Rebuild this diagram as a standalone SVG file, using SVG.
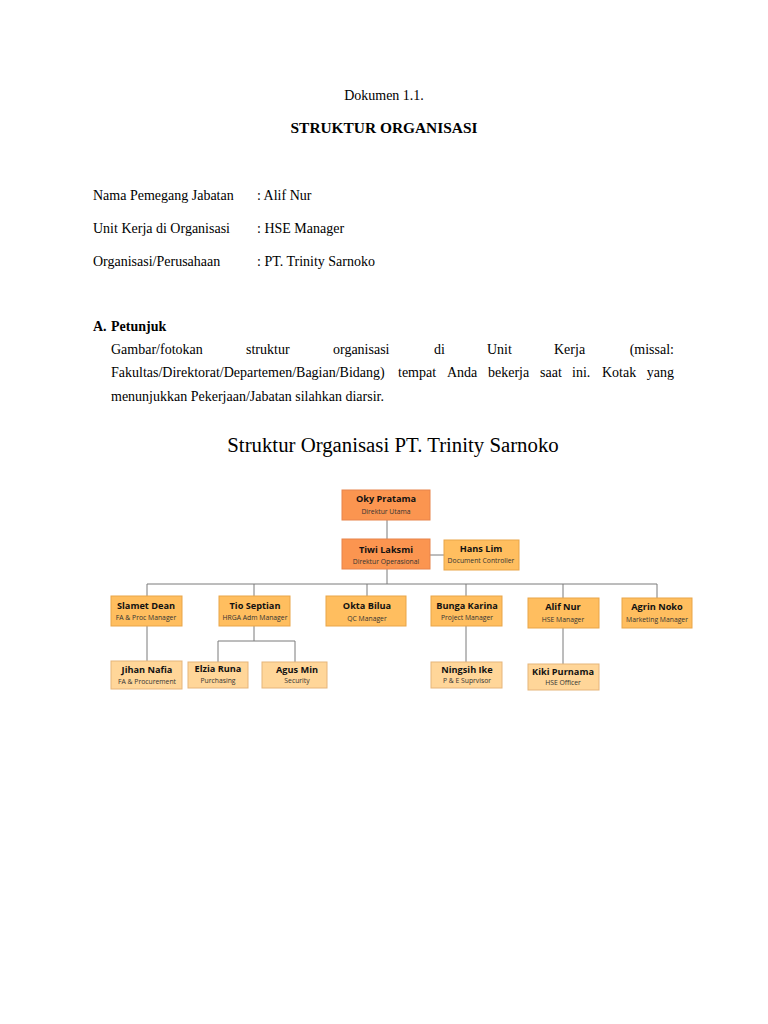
<svg xmlns="http://www.w3.org/2000/svg" width="768" height="1024" viewBox="0 0 768 1024">
<style>
.t{font-family:"Liberation Serif","Times New Roman",serif;font-size:14px;fill:#000}
.b{font-weight:bold}
.n{font-family:"Open Sans","Noto Sans",sans-serif;font-size:9.2px;font-weight:bold;fill:#111;text-anchor:middle}
.s{font-family:"Open Sans","Noto Sans",sans-serif;font-size:6.8px;fill:#333;text-anchor:middle}
.l1{fill:#FB9550;stroke:#E8834A;stroke-width:1}
.l2{fill:#FFBE5F;stroke:#E9A548;stroke-width:1}
.l3{fill:#FFD699;stroke:#E6B57A;stroke-width:1}
.c{stroke:#7a7a7a;stroke-width:1;fill:none}
</style>
<rect width="768" height="1024" fill="#fff"/>
<text class="t" x="384" y="100" text-anchor="middle">Dokumen 1.1.</text>
<text class="t b" x="384" y="133" text-anchor="middle" style="font-size:15.4px">STRUKTUR ORGANISASI</text>
<text class="t" x="93" y="200">Nama Pemegang Jabatan</text>
<text class="t" x="257" y="200">: Alif Nur</text>
<text class="t" x="93" y="233">Unit Kerja di Organisasi</text>
<text class="t" x="257" y="233">: HSE Manager</text>
<text class="t" x="93" y="266">Organisasi/Perusahaan</text>
<text class="t" x="257" y="266">: PT. Trinity Sarnoko</text>
<text class="t b" x="93" y="331">A.</text>
<text class="t b" x="111" y="331">Petunjuk</text>
<g class="t">
<text class="t" x="111" y="354">Gambar/fotokan</text>
<text class="t" x="246" y="354">struktur</text>
<text class="t" x="333" y="354">organisasi</text>
<text class="t" x="434" y="354">di</text>
<text class="t" x="487" y="354">Unit</text>
<text class="t" x="554" y="354">Kerja</text>
<text class="t" x="674" y="354" text-anchor="end">(missal:</text>
<text class="t" x="111" y="377">Fakultas/Direktorat/Departemen/Bagian/Bidang)</text>
<text class="t" x="398" y="377">tempat</text>
<text class="t" x="447" y="377">Anda</text>
<text class="t" x="488" y="377">bekerja</text>
<text class="t" x="540" y="377">saat</text>
<text class="t" x="572" y="377">ini.</text>
<text class="t" x="602" y="377">Kotak</text>
<text class="t" x="674" y="377" text-anchor="end">yang</text>
<text class="t" x="111" y="401">menunjukkan Pekerjaan/Jabatan silahkan diarsir.</text>
</g>
<text x="393" y="452" text-anchor="middle" style="font-family:'Liberation Serif','Times New Roman',serif;font-size:20.8px;fill:#000">Struktur Organisasi PT. Trinity Sarnoko</text>

<g id="connectors">
<line class="c" x1="387" y1="520" x2="387" y2="539"/>
<line class="c" x1="430" y1="555" x2="444" y2="555"/>
<line class="c" x1="387" y1="569" x2="387" y2="584"/>
<line class="c" x1="147" y1="584" x2="657" y2="584"/>
<line class="c" x1="147" y1="584" x2="147" y2="596"/>
<line class="c" x1="254" y1="584" x2="254" y2="596"/>
<line class="c" x1="367" y1="584" x2="367" y2="596"/>
<line class="c" x1="466" y1="584" x2="466" y2="596"/>
<line class="c" x1="563" y1="584" x2="563" y2="598"/>
<line class="c" x1="657" y1="584" x2="657" y2="598"/>
<line class="c" x1="147" y1="626" x2="147" y2="661"/>
<line class="c" x1="254" y1="626" x2="254" y2="641"/>
<line class="c" x1="218" y1="641" x2="295" y2="641"/>
<line class="c" x1="218" y1="641" x2="218" y2="662"/>
<line class="c" x1="295" y1="641" x2="295" y2="662"/>
<line class="c" x1="466" y1="626" x2="466" y2="662"/>
<line class="c" x1="563" y1="628" x2="563" y2="664"/>
</g>

<g id="oky"><rect class="l1" x="342" y="490" width="88" height="30"/><text class="n" x="386" y="502">Oky Pratama</text><text class="s" x="386" y="514">Direktur Utama</text></g>
<g id="tiwi"><rect class="l1" x="342" y="539" width="88" height="30"/><text class="n" x="386" y="553">Tiwi Laksmi</text><text class="s" x="386" y="564">Direktur Operasional</text></g>
<g id="hans"><rect class="l2" x="444" y="540" width="75" height="30"/><text class="n" x="481" y="552">Hans Lim</text><text class="s" x="481" y="563">Document Controller</text></g>

<g id="slamet"><rect class="l2" x="111" y="596" width="71" height="30"/><text class="n" x="146" y="609">Slamet Dean</text><text class="s" x="146" y="620">FA &amp; Proc Manager</text></g>
<g id="tio"><rect class="l2" x="219" y="596" width="71" height="30"/><text class="n" x="255" y="609">Tio Septian</text><text class="s" x="255" y="620">HRGA Adm Manager</text></g>
<g id="okta"><rect class="l2" x="326" y="596" width="80" height="30"/><text class="n" x="367" y="609">Okta Bilua</text><text class="s" x="367" y="621">QC Manager</text></g>
<g id="bunga"><rect class="l2" x="431" y="596" width="71" height="30"/><text class="n" x="467" y="609">Bunga Karina</text><text class="s" x="467" y="620">Project Manager</text></g>
<g id="alif"><rect class="l2" x="528" y="598" width="71" height="30"/><text class="n" x="563" y="610">Alif Nur</text><text class="s" x="563" y="622">HSE Manager</text></g>
<g id="agrin"><rect class="l2" x="622" y="598" width="70" height="30"/><text class="n" x="657" y="610">Agrin Noko</text><text class="s" x="657" y="622">Marketing Manager</text></g>

<g id="jihan"><rect class="l3" x="111" y="661" width="71" height="28"/><text class="n" x="147" y="673">Jihan Nafia</text><text class="s" x="147" y="684">FA &amp; Procurement</text></g>
<g id="elzia"><rect class="l3" x="188" y="662" width="60" height="26"/><text class="n" x="218" y="672">Elzia Runa</text><text class="s" x="218" y="683">Purchasing</text></g>
<g id="agus"><rect class="l3" x="262" y="662" width="65" height="26"/><text class="n" x="297" y="673">Agus Min</text><text class="s" x="297" y="683">Security</text></g>
<g id="ningsih"><rect class="l3" x="431" y="662" width="71" height="26"/><text class="n" x="467" y="673">Ningsih Ike</text><text class="s" x="467" y="683">P &amp; E Suprvisor</text></g>
<g id="kiki"><rect class="l3" x="528" y="664" width="71" height="26"/><text class="n" x="563" y="675">Kiki Purnama</text><text class="s" x="563" y="685">HSE Officer</text></g>
</svg>
